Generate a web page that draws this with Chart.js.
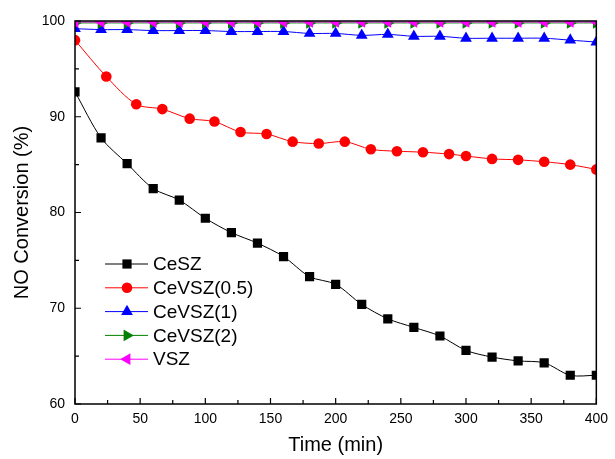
<!DOCTYPE html>
<html>
<head>
<meta charset="utf-8">
<script src="https://cdn.jsdelivr.net/npm/chart.js@4"></script>
<style>
  html, body { margin: 0; padding: 0; background: #fff; }
  #wrap { width: 615px; height: 459px; }
</style>
</head>
<body>
<div id="wrap"><canvas id="c" width="615" height="459"></canvas></div>
<script>
// sampling times (min)
const timeEven = [0, 20, 40, 60, 80, 100, 120, 140, 160, 180, 200, 220, 240, 260, 280, 300, 320, 340, 360, 380, 400];
const timeRed = [0, 24, 47, 67, 88, 107, 127, 147, 167, 187, 207, 227, 247, 267, 287, 300, 320, 340, 360, 380, 400];

// NO conversion (%)
const ceSZ = [92.6, 87.8, 85.1, 82.5, 81.3, 79.4, 77.9, 76.8, 75.4, 73.3, 72.5, 70.4, 68.9, 68.0, 67.1, 65.6, 64.9, 64.5, 64.3, 63.0, 63.0];
const ceVSZ05 = [98.0, 94.2, 91.3, 90.8, 89.8, 89.5, 88.4, 88.2, 87.4, 87.2, 87.4, 86.6, 86.4, 86.3, 86.1, 85.9, 85.6, 85.5, 85.3, 85.0, 84.5];
const ceVSZ1 = [99.2, 99.1, 99.1, 99.0, 99.0, 99.0, 98.9, 98.9, 98.9, 98.7, 98.7, 98.5, 98.6, 98.4, 98.4, 98.2, 98.2, 98.2, 98.2, 98.0, 97.8];
const ceVSZ2 = [99.8, 99.8, 99.8, 99.8, 99.8, 99.8, 99.8, 99.8, 99.8, 99.8, 99.8, 99.8, 99.8, 99.8, 99.8, 99.8, 99.8, 99.8, 99.8, 99.8, 99.8];
const vSZ = [99.9, 99.9, 99.9, 99.9, 99.9, 99.9, 99.9, 99.9, 99.9, 99.9, 99.9, 99.9, 99.9, 99.9, 99.9, 99.9, 99.9, 99.9, 99.9, 99.9, 99.9];

const seriesNames = ["CeSZ", "CeVSZ(0.5)", "CeVSZ(1)", "CeVSZ(2)", "VSZ"];
const xTicks = [0, 50, 100, 150, 200, 250, 300, 350, 400];
const yTicks = [60, 70, 80, 90, 100];

const FONT = "'Liberation Sans', Arial, sans-serif";

function pts(xs, ys) {
    return xs.map((x, i) => ({ x: x, y: ys[i] }));
}

function makeSet(label, data, color, style, radius, rotation, order) {
    return {
        label: label,
        data: data,
        borderColor: color,
        backgroundColor: color,
        borderWidth: 1,
        pointStyle: style,
        pointRadius: radius,
        pointRotation: rotation,
        pointBorderWidth: 0,
        pointBackgroundColor: color,
        tension: 0.3,
        clip: 0,
        order: order
    };
}

const datasets = [
    makeSet(seriesNames[0], pts(timeEven, ceSZ), "#000000", "rect", 6.5, 0, 4),
    makeSet(seriesNames[1], pts(timeRed, ceVSZ05), "#ff0000", "circle", 5.3, 0, 3),
    makeSet(seriesNames[2], pts(timeEven, ceVSZ1), "#0000ff", "triangle", 6.8, 0, 2),
    makeSet(seriesNames[3], pts(timeEven, ceVSZ2), "#008000", "triangle", 6.8, 90, 1),
    makeSet(seriesNames[4], pts(timeEven, vSZ), "#ff00ff", "triangle", 6.8, -90, 0)
];

// frame, inward ticks and the legend box inside the plot
const framePlugin = {
    id: "frame",
    afterDraw(chart) {
        const ctx = chart.ctx;
        const a = chart.chartArea;
        const xs = chart.scales.x, ys = chart.scales.y;
        ctx.save();
        ctx.strokeStyle = "#000";
        ctx.lineWidth = 1.5;
        ctx.strokeRect(a.left, a.top, a.right - a.left, a.bottom - a.top);

        ctx.lineWidth = 1.2;
        ctx.beginPath();
        for (let v = 0; v <= 400; v += 25) {
            const px = xs.getPixelForValue(v);
            const len = v % 50 === 0 ? 6 : 4;
            ctx.moveTo(px, a.bottom);
            ctx.lineTo(px, a.bottom - len);
        }
        for (let v = 60; v <= 100; v += 5) {
            const py = ys.getPixelForValue(v);
            const len = v % 10 === 0 ? 6 : 4;
            ctx.moveTo(a.left, py);
            ctx.lineTo(a.left + len, py);
        }
        ctx.stroke();

        // legend
        let y = 264;
        chart.data.datasets.forEach(ds => {
            ctx.strokeStyle = ds.borderColor;
            ctx.lineWidth = 1;
            ctx.beginPath();
            ctx.moveTo(105, y);
            ctx.lineTo(148, y);
            ctx.stroke();
            ctx.fillStyle = ds.backgroundColor;
            Chart.helpers.drawPoint(ctx, {
                pointStyle: ds.pointStyle,
                radius: ds.pointRadius,
                rotation: ds.pointRotation,
                borderWidth: 0
            }, 127, y);
            ctx.fillStyle = "#000";
            ctx.font = "19px " + FONT;
            ctx.textBaseline = "middle";
            ctx.textAlign = "left";
            ctx.fillText(ds.label, 153, y + 1);
            y += 23.8;
        });
        ctx.restore();
    }
};

new Chart(document.getElementById("c"), {
    type: "line",
    data: { datasets: datasets },
    plugins: [framePlugin],
    options: {
        responsive: false,
        animation: false,
        layout: { padding: { left: 0, right: 13, top: 21, bottom: 0 } },
        plugins: {
            legend: { display: false },
            tooltip: { enabled: false }
        },
        scales: {
            x: {
                type: "linear",
                min: 0,
                max: 400,
                afterFit: s => { s.height = 55; },
                afterBuildTicks: s => { s.ticks = xTicks.map(v => ({ value: v })); },
                grid: { display: false, drawTicks: false },
                border: { display: false },
                ticks: { color: "#000", padding: 7, font: { family: FONT, size: 14 }, maxRotation: 0 },
                title: { display: true, text: "Time (min)", color: "#000", font: { family: FONT, size: 20 }, padding: { top: 0, bottom: 2 } }
            },
            y: {
                type: "linear",
                min: 60,
                max: 100,
                afterFit: s => { s.width = 75; },
                afterBuildTicks: s => { s.ticks = yTicks.map(v => ({ value: v })); },
                grid: { display: false, drawTicks: false },
                border: { display: false },
                ticks: { color: "#000", padding: 10, font: { family: FONT, size: 14 } },
                title: { display: true, text: "NO Conversion (%)", color: "#000", font: { family: FONT, size: 20 }, padding: { top: 10, bottom: 0 } }
            }
        }
    }
});
</script>
</body>
</html>
